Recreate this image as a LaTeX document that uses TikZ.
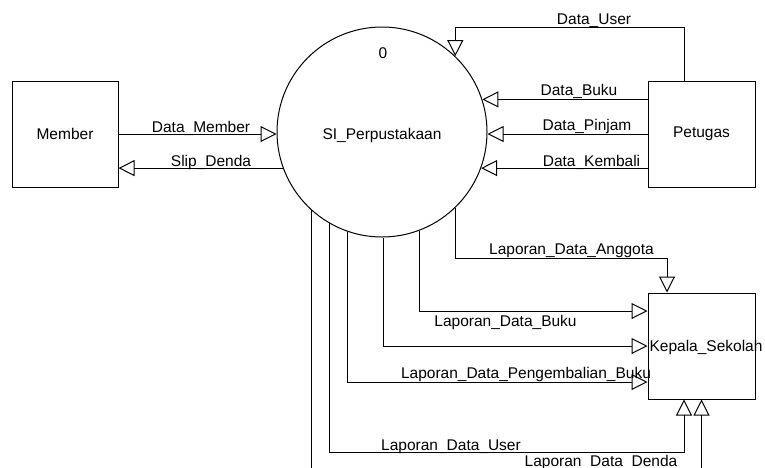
\documentclass[tikz,border=0pt]{standalone}
\usepackage{fontspec}
\setmainfont{Liberation Sans}
\usetikzlibrary{arrows.meta}
\begin{document}
\begin{tikzpicture}[x=1pt,y=-1pt,
  every node/.style={font=\fontsize{15.5}{18}\selectfont, inner sep=0pt},
  ent/.style={draw, line width=1pt, minimum width=107pt, minimum height=106pt},
  proc/.style={draw, circle, line width=1pt, minimum size=210pt},
  flow/.style={line width=1pt, -{Triangle[open, length=16pt, width=16pt, line width=1pt]}},
  lbl/.style={anchor=base}]
\useasboundingbox (0,0) rectangle (765,467);
\clip (0,0) rectangle (765,467);
% nodes
\node[ent, minimum width=106pt] (member) at (65,134) {Member};
\node[proc] (si) at (382,132) {};
\node (sitext) at (382,135) {SI\_Perpustakaan};
\node (num) at (383,53) {0};
\node[ent] (petugas) at (701.5,134) {Petugas};
\node[ent] (kepala) at (701.5,346) {};
\node (kepalat) at (706,347) {Kepala\_Sekolah};
% member flows
\draw[flow] (member.east) -- (member.east -| si.west);
\draw[flow] (si.200.6) -- (member.east |- si.200.6);
% petugas flows
\draw[flow] ([xshift=-17.5pt]petugas.north) -- ++(0,-53.5) -| (si.46.7);
\draw[flow] (petugas.west |- si.18.9) -- (si.18.9);
\draw[flow] (petugas.west) -- (petugas.west -| si.east);
\draw[flow] (petugas.west |- si.-20.6) -- (si.-20.6);
% reports to kepala
\draw[flow] (si.-46.7) -- (si.-46.7 |- 0,258) -| ([xshift=-34.5pt]kepala.north);
\draw[flow] (si.-69.4) |- (kepala.west |- 0,311);
\draw[flow] ([xshift=1pt]si.south) |- (kepala.west);
\draw[flow] (si.251.1) |- (kepala.west |- 0,382);
\draw[flow] (si.240.3) -- (si.240.3 |- 0,452) -| ([xshift=-17.5pt]kepala.south);
\draw[flow] (si.228.2) -- (si.228.2 |- 0,480) -| (kepala.south);
% labels
\node[lbl] (l1) at (201,132) {Data\_Member};
\node[lbl] (l2) at (211,166) {Slip\_Denda};
\node[lbl] (l3) at (594,24) {Data\_User};
\node[lbl] (l4) at (579,95) {Data\_Buku};
\node[lbl] (l5) at (587,130.5) {Data\_Pinjam};
\node[lbl] (l6) at (591.5,166) {Data\_Kembali};
\node[lbl] (l7) at (571.5,254) {Laporan\_Data\_Anggota};
\node[lbl] (l8) at (505.5,326) {Laporan\_Data\_Buku};
\node[lbl] (l9) at (526,378) {Laporan\_Data\_Pengembalian\_Buku};
\node[lbl] (l10) at (451,450) {Laporan\_Data\_User};
\node[lbl] (l11) at (601,466.5) {Laporan\_Data\_Denda};
\end{tikzpicture}
\end{document}
